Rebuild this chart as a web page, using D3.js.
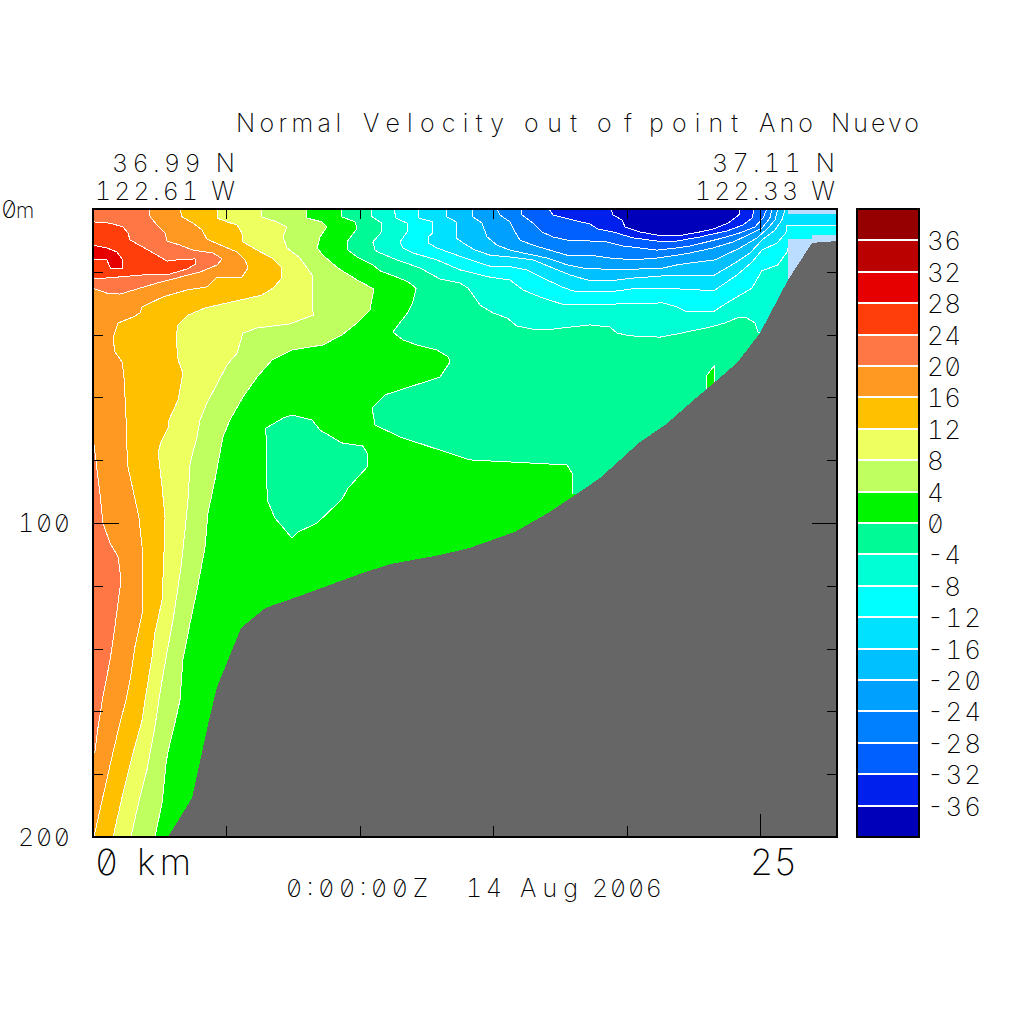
<!DOCTYPE html>
<html><head><meta charset="utf-8">
<script src="https://cdn.jsdelivr.net/npm/d3@7"></script>
<style>
html,body{margin:0;padding:0;background:#fff}
text{font-family:Inter,"Noto Sans",sans-serif;font-weight:200;font-feature-settings:"zero" 1,"tnum" 1;fill:#000}
#labels{opacity:.999}
</style></head><body><svg id="c" width="1024" height="1024"></svg>
<script>
const levels=[36,32,28,24,20,16,12,8,4,0,-4,-8,-12,-16,-20,-24,-28,-32,-36];
const bandColors=["#960000","#bb0000","#e60000","#ff3e0c","#ff7744","#ff9922","#ffc000","#eeff60","#bfff60","#00f500","#00fa96","#00ffd5","#00ffff","#00e0ff","#00c0ff","#00a0ff","#0080ff","#0060ff","#0020ee","#0000bb"];
const xTicks=[5,10,15,20,25];
const yTicks=[20,40,60,80,100,120,140,160,180];
const kmMax=27.886, depthMax=200;

// contours as [km, depth m]
const c28=[[0,11.5],[.52,12.4],[.9,13.7],[1.09,15.9],[1.09,19.1],[.67,19.1],[.52,16.2],[0,15.9]];
const c24=[[0,4.1],[.64,4.5],[1.12,5.7],[1.31,7.6],[1.39,9.9],[1.87,12.1],[2.4,14.7],[2.77,16.6],[3.15,16.2],[3.82,15.9],[3.86,17.5],[3.52,19.1],[2.89,20.7],[1.87,21],[.9,21.7],[0,22.3]];
const c20a=[[2.1,0],[2.14,2.5],[2.4,5.1],[2.7,7.6],[2.77,10.2],[3.26,11.5],[3.75,13.1],[4.5,14],[4.84,15.9],[4.65,17.8],[4.01,20.1],[3.26,21.7],[2.4,23.6],[1.76,25.2],[1.01,27.1],[.52,26.8],[0,25.2]];
const c20b=[[0,72.6],[.26,90.5],[.37,100],[.64,106.4],[.94,110.8],[1.05,118.2],[.82,133.1],[.64,143.6],[.37,155.4],[.19,165],[.07,172.9],[0,173.3]];
const c16=[[3.26,0],[3.34,2.5],[3.75,4.5],[4.09,6.7],[4.27,9.6],[4.87,11.8],[5.4,13.7],[5.7,16.2],[5.81,18.8],[5.58,21.7],[4.65,21.7],[4.27,24.8],[3.52,25.8],[2.62,28],[1.84,31.2],[1.76,33.1],[1.5,34.4],[.94,36.3],[.75,41.1],[.82,45.5],[1.09,48.7],[1.16,53.5],[1.2,59.9],[1.24,67.2],[1.24,71.3],[1.31,82.2],[1.5,89.5],[1.72,98.1],[1.84,107.7],[1.87,115.9],[1.87,127.7],[1.57,139.5],[1.39,150],[1.24,156.4],[1.01,163.7],[.71,174.5],[.37,187.3],[.07,198.7],[.04,200]];
const c12=[[4.65,0],[4.65,2.9],[5.02,4.1],[5.4,5.1],[5.58,7.6],[5.62,10.5],[6.15,13.1],[6.71,15.6],[7.08,18.8],[7.08,22],[6.75,25.2],[6.33,27.4],[5.51,29],[4.2,31.5],[3.56,33.8],[3.19,36.9],[3.11,40.8],[3.19,48.1],[3.37,52.2],[3.19,60.8],[2.85,67.2],[2.81,69.8],[2.55,74.2],[2.44,77.4],[2.59,88.5],[2.7,98.4],[2.66,109.6],[2.59,124.5],[2.32,135],[2.21,142.7],[1.95,156.4],[1.84,162.8],[1.46,174.5],[1.09,187.3],[.75,200]];
const c8=[[6.3,0],[6.33,2.5],[6.9,4.1],[7.27,5.7],[7.12,8.9],[7.27,12.4],[7.76,15.6],[8.21,21],[8.25,33.8],[7.38,36.6],[6.15,37.9],[5.62,39.5],[5.4,45.9],[5.02,49.7],[4.57,57],[4.27,61.8],[4.01,67.2],[3.9,72.6],[3.64,80.9],[3.56,92.7],[3.45,102.2],[3.3,114],[3,130.9],[2.81,139.5],[2.59,150],[2.47,156.4],[2.32,165],[2.02,178.7],[1.76,187.3],[1.42,200]];
const c4=[[7.98,0],[8.02,2.9],[8.58,4.1],[8.77,5.7],[8.51,8.9],[8.4,12.4],[8.62,14.7],[9.18,18.8],[9.9,22.6],[10.53,25.5],[10.38,32.2],[9.9,36.3],[9.33,40.1],[8.62,43.3],[7.46,44.9],[6.71,48.1],[6.15,53.5],[5.62,59.9],[5.13,67.2],[4.87,72.6],[4.57,86.3],[4.31,96.8],[4.2,107.7],[3.9,121.3],[3.64,131.8],[3.37,143.6],[3.26,156.4],[3.07,163.7],[2.81,172.9],[2.74,176.4],[2.59,189.1],[2.32,200]];
const c0=[[9.33,0],[9.33,2.5],[9.82,4.1],[9.9,6.1],[9.52,10.5],[9.56,13.1],[9.9,15.3],[10.49,17.8],[10.76,19.7],[11.39,21.7],[11.81,23.2],[12.11,25.2],[11.99,29.6],[11.81,32.8],[11.24,39.2],[11.62,41.7],[12.14,43.3],[12.89,44.9],[13.31,47.1],[13.38,48.7],[13.01,53.5],[12.07,56.1],[10.94,59.2],[10.46,63.4],[10.57,68.8],[11.51,72.6],[13.01,76.8],[14.13,79.9],[16.38,80.9],[17.77,81.5],[17.99,84.7],[17.99,90.8]];
const cm4=[[10.42,0],[10.46,2.5],[10.83,4.5],[10.79,7.6],[10.49,10.5],[10.57,13.1],[10.76,14],[11.39,16.2],[12.26,18.8],[13.01,22.3],[13.76,23.6],[14.06,25.2],[14.51,30.6],[14.99,33.1],[15.52,34.7],[15.89,37.3],[16.64,38.5],[17.02,38.5],[17.88,37.6],[18.63,36.9],[19.38,37.6],[19.64,39.5],[20.13,40.4],[21.25,40.8],[21.89,39.8],[23.13,37.6],[23.69,36.3],[24.14,34.7],[24.51,34.7],[24.81,36.3],[24.93,39.2],[25,39.5]];
const cm8=[[11.28,0],[11.36,2.9],[11.77,4.5],[11.77,7.3],[11.51,10.5],[11.62,12.4],[11.99,14],[12.89,16.2],[13.76,19.4],[14.88,21.7],[15.63,22.6],[16.12,25.8],[16.75,28],[17.58,30.3],[18.63,30.3],[19.38,30.3],[21.36,29.9],[21.89,31.2],[22.26,32.8],[23.24,32.8],[23.76,29.9],[24.7,25.2],[25.07,19.7],[25.67,17.8],[26.01,13.7],[26.05,12.4]];
const cm12=[[12.18,0],[12.22,2.9],[12.74,4.1],[12.74,7.6],[12.56,8.9],[12.56,10.8],[12.89,12.4],[13.64,14.7],[14.39,16.9],[14.88,18.2],[15.52,18.2],[16.27,19.4],[17.02,22.6],[17.58,24.8],[17.99,26.1],[18.63,26.4],[19.38,26.4],[20.39,25.2],[21.36,25.2],[22.75,25.8],[23.31,25.8],[24.14,21],[24.7,16.9],[25.07,13.1],[25.64,10.8],[25.97,7.6],[26.01,5.1],[27.886,5.1]];
const cm16=[[13.23,0],[13.27,2.5],[13.61,4.1],[13.61,9.2],[13.87,10.8],[14.32,13.1],[14.88,14.7],[15.63,15.3],[16.49,16.2],[17.24,18.8],[17.88,21],[18.52,22.6],[19.38,22.9],[20.24,22],[21.36,21.3],[22.38,21.3],[23.24,21.3],[24.06,17.2],[24.63,14],[25.07,9.9],[25.56,6.7],[25.82,3.5],[25.94,0]];
const cm20=[[14.21,0],[14.24,2.5],[14.58,4.5],[14.77,8.9],[15.14,11.5],[15.63,13.1],[16.12,14],[17.02,15.6],[17.77,17.8],[18.37,18.8],[19.64,19.4],[20.5,19.1],[21.36,18.8],[21.89,17.8],[22.38,17.2],[23.31,16.2],[24.25,12.4],[24.89,9.2],[25.3,6.1],[25.56,3.5],[25.67,0]];
const cm24=[[15.14,0],[15.25,1.9],[15.63,4.1],[15.82,7.3],[16,9.9],[16.49,11.5],[17.13,13.1],[17.77,14.7],[18.63,14.7],[19.38,15.6],[20.24,16.2],[21.14,15.6],[21.89,14.7],[22.38,14],[23.24,12.4],[23.99,10.5],[24.55,8.3],[25.07,6.1],[25.37,2.9],[25.45,0]];
const cm28=[[16.04,0],[16.08,1.9],[16.49,4.5],[16.83,7.3],[17.24,8.9],[17.77,9.9],[18.63,10.2],[19.27,10.5],[19.87,11.8],[20.5,12.4],[21.14,13.1],[21.89,12.4],[22.38,11.8],[22.86,10.8],[23.61,9.2],[24.25,7.6],[24.81,5.7],[25.11,2.9],[25.26,0]];
const cm32=[[17.09,0],[17.24,1.9],[17.99,3.5],[18.63,4.8],[18.93,6.4],[19.49,7.3],[20.24,9.2],[21.14,10.2],[21.89,10.2],[22.75,8.9],[23.05,8.3],[23.76,7],[24.36,5.1],[24.7,2.9],[24.78,0]];
const cm36=[[19.42,0],[19.49,1.9],[19.83,3.5],[19.94,5.7],[20.5,7.3],[21.14,8.3],[21.89,8.6],[22.75,7.3],[23.24,6.4],[23.8,4.5],[24.21,1.9],[24.25,0]];
const pocketMinus4=[[7.12,66.6],[7.46,65.6],[8.21,67.2],[8.51,70.4],[9.33,74.5],[10.12,75.5],[10.27,77.7],[10.27,82.2],[9.56,88.9],[9.33,92.4],[8.4,100],[7.68,102.9],[7.46,104.8],[6.82,98.4],[6.56,93.3],[6.52,88.9],[6.48,69.8],[7.12,66.6]];
const pocketZero=[[22.98,58.5],[23.01,52.9],[23.28,50],[23.28,58.5]];
const bottom=[[2.81,200],[3.71,187.6],[3.94,178.7],[4.35,162.7],[4.65,152.2],[5.55,133.4],[6.45,127.1],[7.76,123.2],[10.01,116.2],[11.13,113.1],[13.01,110.2],[14.13,107.9],[15.82,102.8],[16.94,97.4],[18.07,91.1],[19,85.7],[20.5,74.2],[21.44,68.8],[22.56,60.5],[23.13,56.4],[24.14,49],[25,39.5],[26.05,22.6],[26.95,10.8],[27.886,10.2],[27.886,200]];
const noDataTop=[[26.05,0],[27.886,0],[27.886,1.6],[26.05,1.6]];
const noDataShelf=[[26.05,9.55],[26.95,9.55],[26.95,8.3],[27.886,8.3],[27.886,11.5],[26.05,24.2]];

const svg=d3.select("#c");
const L=93,R=837,T=209,B=837;
const x=d3.scaleLinear().domain([0,kmMax]).range([L,R]);
const y=d3.scaleLinear().domain([0,depthMax]).range([T,B]);
const path=d3.line().x(d=>x(d[0])).y(d=>y(d[1]));
// colour of the band just warmer / just colder than a level
const above=v=>bandColors[levels.indexOf(v)];
const below=v=>bandColors[levels.indexOf(v)+1];

const plot=svg.append("g").attr("shape-rendering","crispEdges");
plot.append("rect").attr("x",L).attr("y",T).attr("width",R-L).attr("height",B-T).attr("fill",above(0));
const corner={TL:[0,0],BL:[0,depthMax]};
const warm=[[c4,4,[corner.BL,corner.TL]],[c8,8,[corner.BL,corner.TL]],[c12,12,[corner.BL,corner.TL]],[c16,16,[corner.BL,corner.TL]],[c20a,20,[corner.TL]],[c20b,20,[]],[c24,24,[]],[c28,28,[]]];
const cold=[[c0,0,[[kmMax,90.8],[kmMax,0]]],[cm4,-4,[[kmMax,39.5],[kmMax,0]]],[cm8,-8,[[kmMax,12.4],[kmMax,0]]],[cm12,-12,[[kmMax,0]]],[cm16,-16,[]],[cm20,-20,[]],[cm24,-24,[]],[cm28,-28,[]],[cm32,-32,[]],[cm36,-36,[]]];
plot.selectAll("path.warm").data(warm).join("path").attr("class","warm").attr("fill",d=>above(d[1])).attr("d",d=>path(d[0].concat(d[2]))+"Z");
plot.selectAll("path.cold").data(cold).join("path").attr("class","cold").attr("fill",d=>below(d[1])).attr("d",d=>path(d[0].concat(d[2]))+"Z");
plot.append("path").attr("fill",below(0)).attr("d",path(pocketMinus4)+"Z");
plot.append("path").attr("fill",above(0)).attr("d",path(pocketZero)+"Z");
const lines=[c28,c24,c20a,c20b,c16,c12,c8,c4,c0,cm4,cm8,cm12,cm16,cm20,cm24,cm28,cm32,cm36,pocketMinus4,pocketZero];
plot.selectAll("path.iso").data(lines).join("path").attr("class","iso").attr("fill","none").attr("stroke","#fff").attr("stroke-width",1).attr("d",d=>path(d));
plot.selectAll("path.nodata").data([noDataTop,noDataShelf]).join("path").attr("class","nodata").attr("fill","#bbddff").attr("d",d=>path(d)+"Z");
plot.append("path").attr("fill","#666666").attr("d",path(bottom)+"Z");

function axis(a,tf,fn){const g=svg.append("g").attr("transform",tf).attr("shape-rendering","crispEdges").call(a);g.select(".domain").remove();g.selectAll("text").remove();g.selectAll(".tick line").attr("stroke","#000").each(function(d){fn(d3.select(this),d)});}
axis(d3.axisBottom(x).tickValues(xTicks).tickFormat(""),`translate(0,${T})`,(l,d)=>l.attr("y2",d===25?23:10));
axis(d3.axisTop(x).tickValues(xTicks).tickFormat(""),`translate(0,${B})`,(l,d)=>l.attr("y2",d===25?-23:-11));
axis(d3.axisRight(y).tickValues(yTicks).tickFormat(""),`translate(${L},0)`,(l,d)=>l.attr("x2",d===100?26:10));
axis(d3.axisLeft(y).tickValues(yTicks).tickFormat(""),`translate(${R},0)`,(l,d)=>l.attr("x2",d===100?-25:-10));
svg.append("rect").attr("x",L).attr("y",T).attr("width",R-L).attr("height",B-T).attr("fill","none").attr("stroke","#000").attr("stroke-width",2).attr("shape-rendering","crispEdges");

// colour bar
const cbL=857,cbR=919;
const cb=d3.scaleBand().domain(d3.range(bandColors.length)).range([T,B]);
const cbg=svg.append("g").attr("shape-rendering","crispEdges");
cbg.selectAll("rect").data(bandColors).join("rect").attr("x",cbL).attr("width",cbR-cbL).attr("y",(d,i)=>cb(i)).attr("height",cb.bandwidth()+1).attr("fill",d=>d);
cbg.selectAll("line").data(levels).join("line").attr("x1",cbL).attr("x2",cbR).attr("y1",(d,i)=>cb(i+1)).attr("y2",(d,i)=>cb(i+1)).attr("stroke","#fff").attr("stroke-width",2);
cbg.append("rect").attr("x",cbL).attr("y",T).attr("width",cbR-cbL).attr("height",B-T).attr("fill","none").attr("stroke","#000").attr("stroke-width",2);

const txt=svg.append("g").attr("id","labels");
function label(s,xl,base,size,len){const t=txt.append("text").attr("x",xl).attr("y",base).attr("font-size",size).text(s);if(len)t.attr("textLength",len).attr("lengthAdjust","spacing");return t;}
// one text with words placed at their own x and width, separated by real spaces
function words(list,base,size){const t=txt.append("text").attr("y",base).attr("font-size",size).style("white-space","pre");list.forEach((w,i)=>{t.append("tspan").attr("x",w[1]).attr("textLength",w[2]).attr("lengthAdjust","spacing").text(w[0]);if(w[3])t.append("tspan").text(w[3]);});}
levels.forEach((v,i)=>{const s=(v<0?"-":"")+Math.abs(v);label(s,927,cb(i+1)+10,26,s.length===3?54:s.length===2?34:null);});

const titleWords=[["Normal",236,105," "],["Velocity",363,141," "],["out",524,53," "],["of",597,35," "],["point",649,89," "],["Ano",759,54," "],["Nuevo",831,88]];
const dateWords=[["0:00:00Z",286,142,"  "],["14",466,36," "],["Aug",520,58," "],["2006",592,70]];
words(titleWords,132,25);
words(dateWords,897,25);
label("36.99 N",112,172,25,123);
label("122.61 W",95,200,25,140);
label("37.11 N",712,172,25,123);
label("122.33 W",695,200,25,140);
const zm=label("0",1,218,25);
zm.append("tspan").attr("x",16).attr("font-size",21).text("m");
label("100",18,532,25,52);
label("200",18,846,25,52);
label("0 km",95,875,36,96);
label("25",750,875,36,47);
</script></body></html>
